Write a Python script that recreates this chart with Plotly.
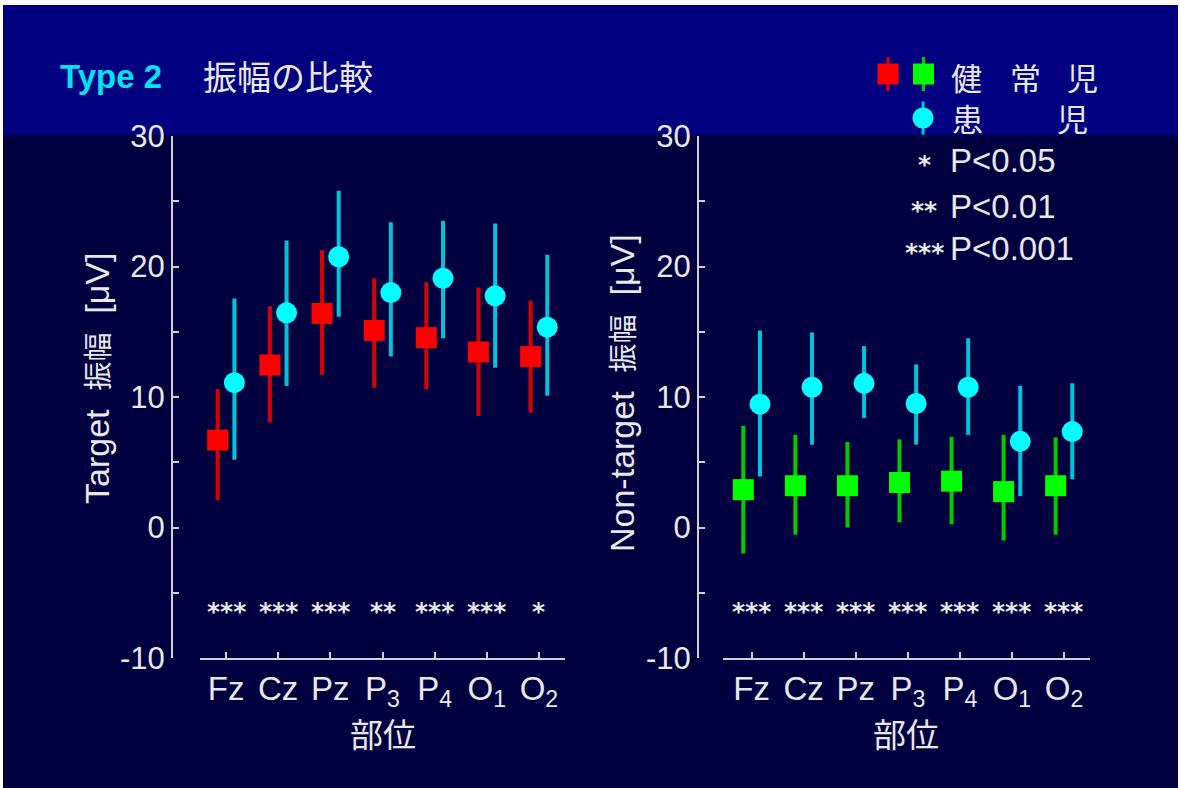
import plotly.graph_objects as go

W, H = 1180, 788

# ---------------- data ----------------
sites = ["Fz", "Cz", "Pz", "P<sub>3</sub>", "P<sub>4</sub>", "O<sub>1</sub>", "O<sub>2</sub>"]

# Target amplitude (µV)
target_normal = [6.7, 12.45, 16.4, 15.1, 14.55, 13.45, 13.1]
target_normal_up = [3.9, 4.5, 4.85, 4.0, 4.25, 4.95, 4.3]
target_normal_dn = [4.6, 4.4, 4.7, 4.4, 3.95, 4.9, 4.3]
target_patient = [11.1, 16.45, 20.75, 18.0, 19.1, 17.75, 15.35]
target_patient_up = [6.45, 5.55, 5.05, 5.4, 4.4, 5.55, 5.55]
target_patient_dn = [5.9, 5.6, 4.6, 4.9, 4.6, 5.5, 5.25]
sig_target = ["***", "***", "***", "**", "***", "***", "*"]

# Non-target amplitude (µV)
nontarget_normal = [2.9, 3.2, 3.2, 3.45, 3.55, 2.75, 3.2]
nontarget_normal_up = [4.9, 3.9, 3.35, 3.3, 3.4, 4.35, 3.7]
nontarget_normal_dn = [4.9, 3.75, 3.2, 3.05, 3.3, 3.75, 3.75]
nontarget_patient = [9.45, 10.75, 11.05, 9.5, 10.75, 6.6, 7.35]
nontarget_patient_up = [5.65, 4.2, 2.85, 3.0, 3.75, 4.25, 3.7]
nontarget_patient_dn = [5.55, 4.4, 2.65, 3.15, 3.65, 4.2, 3.65]
sig_nontarget = ["***", "***", "***", "***", "***", "***", "***"]

y_ticks = [-10, 0, 10, 20, 30]
y_ticktext = ["-10", "0", "10", "20", "30"]
sig_level = -6.15
offset = 0.16

# ---------------- style ----------------
BG_DARK = "#000040"
BG_TOP = "#000080"
RED, RED_LINE = "#ff0000", "#d80000"
GREEN, GREEN_LINE = "#00ff00", "#00cc00"
CYAN, CYAN_LINE = "#00ffff", "#00c4dc"
TXT = "#e8e8e8"
AXC = "#d0d0d0"
FONT = "Liberation Sans, Arial, sans-serif"
JFONT = "Noto Sans CJK JP, sans-serif"
STARFONT = "DejaVu Sans, sans-serif"


def px(x):
    return x / W


def py(y):
    return 1 - y / H


fig = go.Figure()
idx = list(range(len(sites)))


def add_series(xa, ya, vals, up, dn, color, lcolor, symbol, shift):
    fig.add_trace(go.Scatter(
        x=[i + shift for i in idx], y=vals, mode="markers",
        xaxis=xa, yaxis=ya, showlegend=False, hoverinfo="skip",
        marker=dict(symbol=symbol, size=21, color=color, line=dict(width=0)),
        error_y=dict(type="data", symmetric=False, array=up, arrayminus=dn,
                     color=lcolor, thickness=4, width=0),
    ))


add_series("x", "y", target_normal, target_normal_up, target_normal_dn, RED, RED_LINE, "square", -offset)
add_series("x", "y", target_patient, target_patient_up, target_patient_dn, CYAN, CYAN_LINE, "circle", offset)
add_series("x2", "y2", nontarget_normal, nontarget_normal_up, nontarget_normal_dn, GREEN, GREEN_LINE, "square", -offset)
add_series("x2", "y2", nontarget_patient, nontarget_patient_up, nontarget_patient_dn, CYAN, CYAN_LINE, "circle", offset)

# legend glyphs on an overlay pixel-space axis
legend_glyphs = [
    (888, 74, RED, RED_LINE, "square", 17),
    (923.5, 74, GREEN, GREEN_LINE, "square", 17),
    (923, 118, CYAN, CYAN_LINE, "circle", 16.5),
]
for gx, gy, c, lc, sym, eh in legend_glyphs:
    fig.add_trace(go.Scatter(
        x=[gx], y=[gy], mode="markers", xaxis="x3", yaxis="y3",
        showlegend=False, hoverinfo="skip", cliponaxis=False,
        marker=dict(symbol=sym, size=21, color=c, line=dict(width=0)),
        error_y=dict(type="constant", value=eh, color=lc, thickness=3, width=0),
    ))

axis_common = dict(
    showgrid=False, zeroline=False, showline=True, linecolor=AXC, linewidth=2,
    ticks="inside", ticklen=6, tickwidth=2, tickcolor=AXC, automargin=False,
)
y_minor = dict(dtick=5, tick0=0, ticks="inside", ticklen=6, tickwidth=2, tickcolor=AXC, showgrid=False)
xdom1 = [px(200), px(565)]
xdom2 = [px(723), px(1090)]
ydom = [py(658), py(136)]

fig.update_layout(
    width=W, height=H, autosize=False,
    margin=dict(l=0, r=0, t=0, b=0, pad=0, autoexpand=False),
    paper_bgcolor="white", plot_bgcolor="rgba(0,0,0,0)",
    showlegend=False,
    font=dict(family=FONT, color=TXT),
    xaxis=dict(domain=xdom1, range=[-0.5, 6.5], anchor="y", tickvals=idx, ticktext=sites,
               tickfont=dict(size=33, color=TXT, family=FONT), ticklabelstandoff=0, **axis_common),
    yaxis=dict(domain=ydom, range=[-10, 30], anchor="free", position=px(172),
               tickvals=y_ticks, ticktext=y_ticktext, minor=y_minor,
               tickfont=dict(size=31, color=TXT, family=FONT), **axis_common),
    xaxis2=dict(domain=xdom2, range=[-0.55, 6.5], anchor="y2", tickvals=idx, ticktext=sites,
                tickfont=dict(size=33, color=TXT, family=FONT), ticklabelstandoff=0, **axis_common),
    yaxis2=dict(domain=ydom, range=[-10, 30], anchor="free", position=px(698),
                tickvals=y_ticks, ticktext=y_ticktext, minor=y_minor,
                tickfont=dict(size=31, color=TXT, family=FONT), **axis_common),
    xaxis3=dict(domain=[0, 1], range=[0, W], anchor="y3", visible=False, fixedrange=True),
    yaxis3=dict(domain=[0, 1], range=[H, 0], anchor="x3", visible=False, fixedrange=True),
    shapes=[
        dict(type="rect", xref="paper", yref="paper", x0=px(3), x1=px(1178), y0=0, y1=py(5),
             fillcolor=BG_DARK, line=dict(width=0), layer="below"),
        dict(type="rect", xref="paper", yref="paper", x0=px(3), x1=px(1178), y0=py(135), y1=py(5),
             fillcolor=BG_TOP, line=dict(width=0), layer="below"),
    ],
)

ann = []
# titles
ann.append(dict(xref="paper", yref="paper", x=px(58), y=py(77), xanchor="left", yanchor="middle",
                text="<b>Type 2</b>", showarrow=False, font=dict(size=33, color="#00e4f0", family=FONT)))
ann.append(dict(xref="paper", yref="paper", x=px(201), y=py(76), xanchor="left", yanchor="middle",
                text="振幅の比較", showarrow=False, font=dict(size=34, color=TXT, family=JFONT)))
# axis titles
for xc in (px(382.5), px(906)):
    ann.append(dict(xref="paper", yref="paper", x=xc, y=py(733), xanchor="center", yanchor="middle",
                    text="部位", showarrow=False, font=dict(size=33, color=TXT, family=JFONT)))
ytitle_fmt = "{}&nbsp;&nbsp;<span style='font-size:29px'>振幅</span>&nbsp;&nbsp;[μV]"
ann.append(dict(xref="paper", yref="paper", x=px(97), y=py(379), textangle=-90,
                xanchor="center", yanchor="middle", text=ytitle_fmt.format("Target"), showarrow=False,
                font=dict(size=34, color=TXT, family=FONT + ", Noto Sans CJK JP")))
ann.append(dict(xref="paper", yref="paper", x=px(622), y=py(393), textangle=-90,
                xanchor="center", yanchor="middle", text=ytitle_fmt.format("Non-target"), showarrow=False,
                font=dict(size=34, color=TXT, family=FONT + ", Noto Sans CJK JP")))
# significance stars
for xa, ya, sig in (("x", "y", sig_target), ("x2", "y2", sig_nontarget)):
    for i, s in zip(idx, sig):
        ann.append(dict(xref=xa, yref=ya, x=i, y=sig_level, text="<b>" + s + "</b>", showarrow=False,
                        xanchor="center", yanchor="middle", yshift=-4,
                        font=dict(size=25, color=TXT, family=STARFONT)))
# legend text
legend_chars = [("健", 966, 77), ("常", 1025, 77), ("児", 1082, 77), ("患", 968, 118), ("児", 1072, 118)]
for t, lx, ly in legend_chars:
    ann.append(dict(xref="paper", yref="paper", x=px(lx), y=py(ly), text=t, showarrow=False,
                    xanchor="center", yanchor="middle", font=dict(size=31, color=TXT, family=JFONT)))
legend_p = [("*", "P<0.05", 161), ("**", "P<0.01", 206), ("***", "P<0.001", 249)]
for st, lab, ly in legend_p:
    ann.append(dict(xref="paper", yref="paper", x=px(924), y=py(ly), text="<b>" + st + "</b>",
                    showarrow=False, xanchor="center", yanchor="middle", yshift=-4,
                    font=dict(size=25, color=TXT, family=STARFONT)))
    ann.append(dict(xref="paper", yref="paper", x=px(948), y=py(ly), text=lab.replace("<", "&lt;"),
                    showarrow=False, xanchor="left", yanchor="middle",
                    font=dict(size=33, color=TXT, family=FONT)))
fig.update_layout(annotations=ann)

fig.write_html(
    "out.html",
    config={"displayModeBar": False, "responsive": False},
    post_script="document.body.style.margin='0';document.body.style.overflow='hidden';",
)
